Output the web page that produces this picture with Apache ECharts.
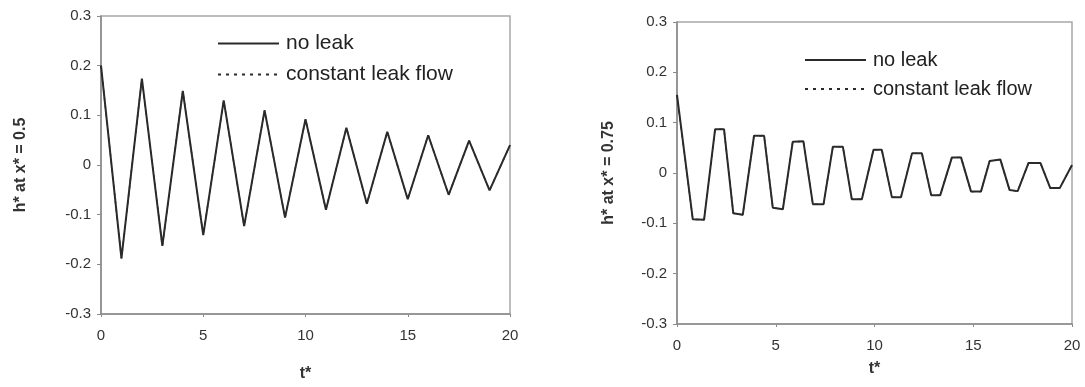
<!DOCTYPE html>
<html>
<head>
<meta charset="utf-8">
<script src="https://cdn.jsdelivr.net/npm/echarts@6/dist/echarts.min.js"></script>
<style>
  html, body { margin: 0; padding: 0; background: #fff; }
  #chart { width: 1085px; height: 387px; }
</style>
</head>
<body>
<div id="chart"></div>
<script>
// Dimensionless head h* versus dimensionless time t*, at two positions along the pipe.
const seriesNames = ['no leak', 'constant leak flow'];
const xTicks = { min: 0, max: 20, interval: 5 };
const yTicks = { min: -0.3, max: 0.3, interval: 0.1 };

// x* = 0.5 : sharp triangular oscillation
const tMid = [0, 1, 2, 3, 4, 5, 6, 7, 8, 9, 10, 11, 12, 13, 14, 15, 16, 17, 18, 19, 20];
const hMidNoLeak = [0.200, -0.188, 0.174, -0.163, 0.149, -0.141, 0.130, -0.123, 0.110, -0.106,
                    0.092, -0.090, 0.075, -0.078, 0.067, -0.069, 0.060, -0.060, 0.049, -0.051, 0.040];
const hMidLeak   = [0.200, -0.188, 0.174, -0.163, 0.149, -0.141, 0.130, -0.123, 0.110, -0.106,
                    0.092, -0.090, 0.075, -0.078, 0.067, -0.069, 0.060, -0.060, 0.049, -0.051, 0.040];

// x* = 0.75 : flat-topped oscillation
const tQuarter = [0, 0.8, 1.37, 1.93, 2.38, 2.85, 3.33, 3.9, 4.41, 4.85, 5.36, 5.86, 6.4, 6.88, 7.42,
                  7.89, 8.4, 8.85, 9.36, 9.95, 10.37, 10.88, 11.34, 11.9, 12.4, 12.87, 13.33, 13.92,
                  14.38, 14.89, 15.39, 15.83, 16.37, 16.84, 17.25, 17.8, 18.4, 18.9, 19.38, 20];
const hQuarterNoLeak = [0.155, -0.092, -0.093, 0.087, 0.087, -0.080, -0.083, 0.074, 0.074, -0.069, -0.072,
                        0.062, 0.063, -0.062, -0.062, 0.052, 0.052, -0.052, -0.052, 0.046, 0.046, -0.048,
                        -0.048, 0.039, 0.039, -0.044, -0.044, 0.031, 0.031, -0.037, -0.037, 0.024, 0.027,
                        -0.034, -0.036, 0.020, 0.020, -0.030, -0.030, 0.016];
const hQuarterLeak   = [0.155, -0.092, -0.093, 0.087, 0.087, -0.080, -0.083, 0.074, 0.074, -0.069, -0.072,
                        0.062, 0.063, -0.062, -0.062, 0.052, 0.052, -0.052, -0.052, 0.046, 0.046, -0.048,
                        -0.048, 0.039, 0.039, -0.044, -0.044, 0.031, 0.031, -0.037, -0.037, 0.024, 0.027,
                        -0.034, -0.036, 0.020, 0.020, -0.030, -0.030, 0.016];

const yNames = ['h* at x* = 0.5', 'h* at x* = 0.75'];
const xName = 't*';

const pairs = (xs, ys) => xs.map((x, i) => [x, ys[i]]);
const FONT = '"Liberation Sans", Arial, sans-serif';
const LINE = '#2a2a2a';

function xAxis(gridIndex) {
  return {
    type: 'value', gridIndex, ...xTicks,
    name: xName, nameLocation: 'middle', nameGap: gridIndex === 0 ? 52 : 37,
    nameTextStyle: { fontFamily: FONT, fontSize: 16, fontWeight: 'bold', color: '#333' },
    axisLine: { show: true, onZero: false, lineStyle: { color: '#8a8a8a', width: 1.5 } },
    axisTick: { show: true, length: 3, lineStyle: { color: '#8a8a8a' } },
    axisLabel: { margin: 14, fontFamily: FONT, fontSize: 15, color: '#333' },
    splitLine: { show: false }
  };
}
function yAxis(gridIndex) {
  return {
    type: 'value', gridIndex, ...yTicks,
    name: yNames[gridIndex], nameLocation: 'middle', nameGap: gridIndex === 0 ? 72 : 60,
    nameTextStyle: { fontFamily: FONT, fontSize: 16, fontWeight: 'bold', color: '#333' },
    axisLine: { show: true, lineStyle: { color: '#8a8a8a', width: 1.5 } },
    axisTick: { show: true, length: 4, lineStyle: { color: '#8a8a8a' } },
    axisLabel: { margin: 10, fontFamily: FONT, fontSize: 15, color: '#333' },
    splitLine: { show: false }
  };
}
function line(name, idx, data, dotted) {
  return {
    name, type: 'line', xAxisIndex: idx, yAxisIndex: idx, data,
    showSymbol: false, symbol: 'none', silent: true, animation: false,
    z: dotted ? 2 : 3,
    lineStyle: { color: LINE, width: dotted ? 1.4 : 2, type: dotted ? [3, 5] : 'solid' },
    itemStyle: { color: LINE }
  };
}
function legend(left, top, gap, fontSize, prefix) {
  return {
    orient: 'vertical', left, top, itemGap: gap, itemWidth: 61, itemHeight: 20,
    selectedMode: false,
    itemStyle: { opacity: 0 },
    data: seriesNames.map(n => ({ name: prefix + n })),
    formatter: n => n.slice(prefix.length),
    textStyle: { fontFamily: FONT, fontSize, color: '#222', padding: [0, 0, 0, 2] }
  };
}

const chart = echarts.init(document.getElementById('chart'), null, { renderer: 'canvas' });
chart.setOption({
  backgroundColor: '#fff',
  animation: false,
  grid: [
    { left: 101, top: 16, width: 409, height: 300, show: true, borderColor: '#a8a8a8', borderWidth: 1.5 },
    { left: 677, top: 22, width: 395, height: 302, show: true, borderColor: '#a8a8a8', borderWidth: 1.5 }
  ],
  xAxis: [xAxis(0), xAxis(1)],
  yAxis: [yAxis(0), yAxis(1)],
  legend: [legend(212, 28, 10, 21, 'L\u200b'), legend(799, 45, 9, 20, 'R\u200b')],
  series: [
    line('L\u200b' + seriesNames[1], 0, pairs(tMid, hMidLeak), true),
    line('L\u200b' + seriesNames[0], 0, pairs(tMid, hMidNoLeak), false),
    line('R\u200b' + seriesNames[1], 1, pairs(tQuarter, hQuarterLeak), true),
    line('R\u200b' + seriesNames[0], 1, pairs(tQuarter, hQuarterNoLeak), false)
  ]
});
</script>
</body>
</html>
